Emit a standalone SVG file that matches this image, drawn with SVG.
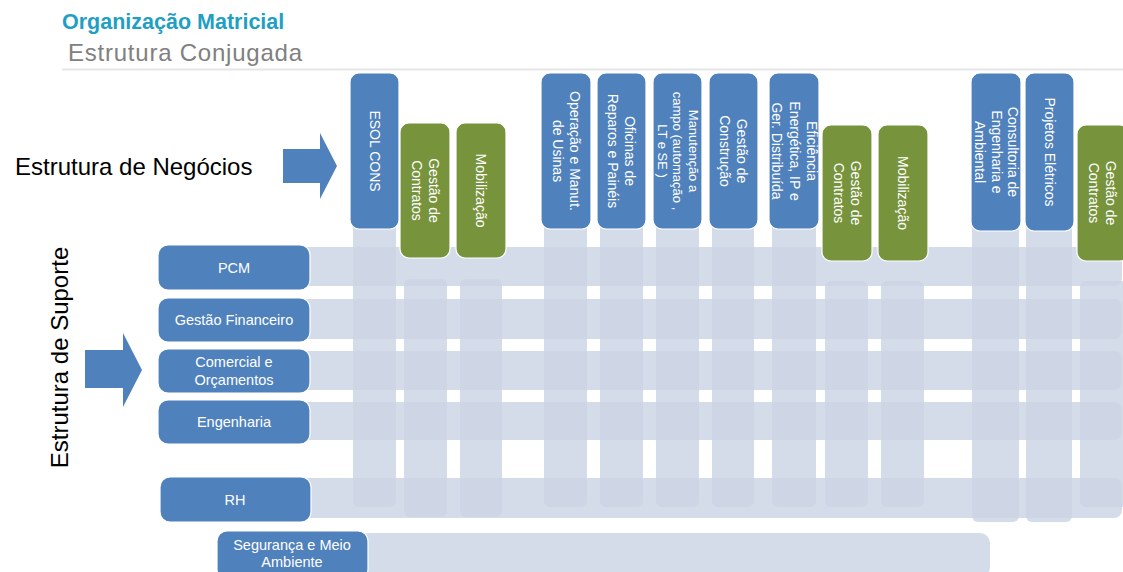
<svg xmlns="http://www.w3.org/2000/svg" width="1123" height="572" viewBox="0 0 1123 572">
  <style>
    .lane { fill: #CDD5E5; opacity: 0.85; }
    .blue { fill: #4F81BD; stroke: #FFFFFF; stroke-width: 1.2; }
    .green { fill: #77933C; stroke: #FFFFFF; stroke-width: 1.2; }
    .lbl { font-family: "Liberation Sans", Arial, sans-serif; font-size: 14px; fill: #FFFFFF; text-anchor: middle; }
    .rowlbl { font-family: "Liberation Sans", Arial, sans-serif; font-size: 14.5px; fill: #FFFFFF; text-anchor: middle; }
    .big { font-family: "Liberation Sans", Arial, sans-serif; font-size: 24px; fill: #000000; }
    .arrow { fill: #4F81BD; }
  </style>

  <rect width="1123" height="572" fill="#FFFFFF"/>

  <!-- heading -->
  <g id="heading">
    <text x="62" y="29" font-family="'Liberation Sans', Arial, sans-serif" font-weight="bold" font-size="21.5" fill="#1F9FC4">Organização Matricial</text>
    <text x="68" y="61" font-family="'Liberation Sans', Arial, sans-serif" font-size="24" fill="#808080" textLength="234" lengthAdjust="spacing">Estrutura Conjugada</text>
    <line x1="62" y1="69.5" x2="1123" y2="69.5" stroke="#E6E6E6" stroke-width="2"/>
  </g>

  <!-- side captions -->
  <text id="cap-negocios" class="big" x="15" y="175">Estrutura de Negócios</text>
  <text id="cap-suporte" class="big" text-anchor="middle" transform="translate(68,357.5) rotate(-90)">Estrutura de Suporte</text>

  <!-- vertical lanes under each business unit -->
  <g id="column-lanes">
    <rect class="lane" x="353" y="220" width="43" height="287" rx="6"/>
    <rect class="lane" x="404" y="279" width="43" height="238" rx="6"/>
    <rect class="lane" x="460" y="279" width="42" height="238" rx="6"/>
    <rect class="lane" x="544" y="220" width="43" height="287" rx="6"/>
    <rect class="lane" x="600" y="220" width="43" height="287" rx="6"/>
    <rect class="lane" x="656" y="220" width="43" height="287" rx="6"/>
    <rect class="lane" x="712" y="220" width="42" height="287" rx="6"/>
    <rect class="lane" x="772" y="220" width="44" height="287" rx="6"/>
    <rect class="lane" x="825" y="281" width="43" height="226" rx="6"/>
    <rect class="lane" x="881" y="281" width="43" height="226" rx="6"/>
    <rect class="lane" x="972" y="220" width="47" height="302" rx="6"/>
    <rect class="lane" x="1026" y="220" width="46" height="302" rx="6"/>
    <rect class="lane" x="1080" y="281" width="50" height="226" rx="6"/>
  </g>

  <!-- horizontal lanes for each support area -->
  <g id="row-lanes">
    <rect class="lane" x="300" y="247" width="822" height="39" rx="8"/>
    <rect class="lane" x="300" y="299" width="822" height="40" rx="8"/>
    <rect class="lane" x="300" y="351" width="822" height="39" rx="8"/>
    <rect class="lane" x="300" y="402" width="822" height="38" rx="8"/>
    <rect class="lane" x="300" y="478" width="822" height="40" rx="8"/>
    <rect class="lane" x="358" y="533" width="632" height="44" rx="10"/>
  </g>

  <!-- block arrows -->
  <g id="connectors">
    <polygon class="arrow" points="283,149 320,149 320,133 337,166 320,199 320,183 283,183"/>
    <polygon class="arrow" points="85,350 123,350 123,333 142,370 123,407 123,388 85,388"/>
  </g>

  <!-- support structure -->
  <g id="pcm">
    <rect class="blue" x="158" y="245" width="152" height="45" rx="10"/>
    <text class="rowlbl" x="234" y="272.5">PCM</text>
  </g>
  <g id="gestao-financeiro">
    <rect class="blue" x="158" y="298" width="152" height="44" rx="10"/>
    <text class="rowlbl" x="234" y="325">Gestão Financeiro</text>
  </g>
  <g id="comercial">
    <rect class="blue" x="158" y="349" width="152" height="44" rx="10"/>
    <text class="rowlbl" x="234" y="367">Comercial e</text>
    <text class="rowlbl" x="234" y="385">Orçamentos</text>
  </g>
  <g id="engenharia">
    <rect class="blue" x="158" y="400" width="152" height="44" rx="10"/>
    <text class="rowlbl" x="234" y="427">Engenharia</text>
  </g>
  <g id="rh">
    <rect class="blue" x="160" y="477" width="151" height="45" rx="10"/>
    <text class="rowlbl" x="235" y="505">RH</text>
  </g>
  <g id="seguranca">
    <rect class="blue" x="217" y="531" width="151" height="48" rx="10"/>
    <text class="rowlbl" x="292" y="550">Segurança e Meio</text>
    <text class="rowlbl" x="292" y="567">Ambiente</text>
  </g>

  <!-- business structure -->
  <g id="esol-cons">
    <rect class="blue" x="350" y="73" width="49" height="156" rx="9"/>
    <text class="lbl" transform="translate(374.5,151) rotate(90)"><tspan x="0" y="5">ESOL CONS</tspan></text>
  </g>
  <g id="gestao-contratos-1">
    <rect class="green" x="400" y="123" width="50" height="135" rx="9"/>
    <text class="lbl" transform="translate(425,190.5) rotate(90)"><tspan x="0" y="-3.5">Gestão de</tspan><tspan x="0" y="13.5">Contratos</tspan></text>
  </g>
  <g id="mobilizacao-1">
    <rect class="green" x="456" y="123" width="50" height="135" rx="9"/>
    <text class="lbl" transform="translate(481,190.5) rotate(90)"><tspan x="0" y="5">Mobilização</tspan></text>
  </g>
  <g id="operacao">
    <rect class="blue" x="541" y="73" width="50" height="156" rx="9"/>
    <text class="lbl" transform="translate(566,151) rotate(90)"><tspan x="0" y="-3.5">Operação e Manut.</tspan><tspan x="0" y="13.5">de Usinas</tspan></text>
  </g>
  <g id="oficinas">
    <rect class="blue" x="597" y="73" width="49" height="156" rx="9"/>
    <text class="lbl" transform="translate(621.5,151) rotate(90)"><tspan x="0" y="-3.5">Oficinas  de</tspan><tspan x="0" y="13.5">Reparos e Painéis</tspan></text>
  </g>
  <g id="manutencao">
    <rect class="blue" x="653" y="73" width="49" height="156" rx="9"/>
    <text class="lbl" font-size="13" transform="translate(677.5,151) rotate(90)" style="font-size:13px"><tspan x="0" y="-11">Manutenção  a</tspan><tspan x="0" y="4.5">campo (automação ,</tspan><tspan x="0" y="20">LT e SE )</tspan></text>
  </g>
  <g id="gestao-construcao">
    <rect class="blue" x="709" y="73" width="49" height="156" rx="9"/>
    <text class="lbl" transform="translate(733.5,151) rotate(90)"><tspan x="0" y="-3.5">Gestão de</tspan><tspan x="0" y="13.5">Construção</tspan></text>
  </g>
  <g id="eficiencia">
    <rect class="blue" x="769" y="73" width="50" height="156" rx="9"/>
    <text class="lbl" transform="translate(794,151) rotate(90)"><tspan x="0" y="-13">Eficiência</tspan><tspan x="0" y="4.5">Energética, IP e</tspan><tspan x="0" y="22">Ger. Distribuída</tspan></text>
  </g>
  <g id="gestao-contratos-2">
    <rect class="green" x="822" y="125" width="50" height="136" rx="9"/>
    <text class="lbl" transform="translate(847,193) rotate(90)"><tspan x="0" y="-3.5">Gestão de</tspan><tspan x="0" y="13.5">Contratos</tspan></text>
  </g>
  <g id="mobilizacao-2">
    <rect class="green" x="878" y="125" width="50" height="136" rx="9"/>
    <text class="lbl" transform="translate(903,193) rotate(90)"><tspan x="0" y="5">Mobilização</tspan></text>
  </g>
  <g id="consultoria">
    <rect class="blue" x="971" y="73" width="50" height="158" rx="9"/>
    <text class="lbl" transform="translate(996,152) rotate(90)"><tspan x="0" y="-12">Consultoria de</tspan><tspan x="0" y="4.5">Engenharia  e</tspan><tspan x="0" y="21">Ambiental</tspan></text>
  </g>
  <g id="projetos-eletricos">
    <rect class="blue" x="1025" y="73" width="49" height="158" rx="9"/>
    <text class="lbl" transform="translate(1049.5,152) rotate(90)"><tspan x="0" y="5">Projetos Elétricos</tspan></text>
  </g>
  <g id="gestao-contratos-3">
    <rect class="green" x="1077" y="125" width="52" height="136" rx="9"/>
    <text class="lbl" transform="translate(1102,193) rotate(90)"><tspan x="0" y="-3.5">Gestão de</tspan><tspan x="0" y="13.5">Contratos</tspan></text>
  </g>
</svg>
